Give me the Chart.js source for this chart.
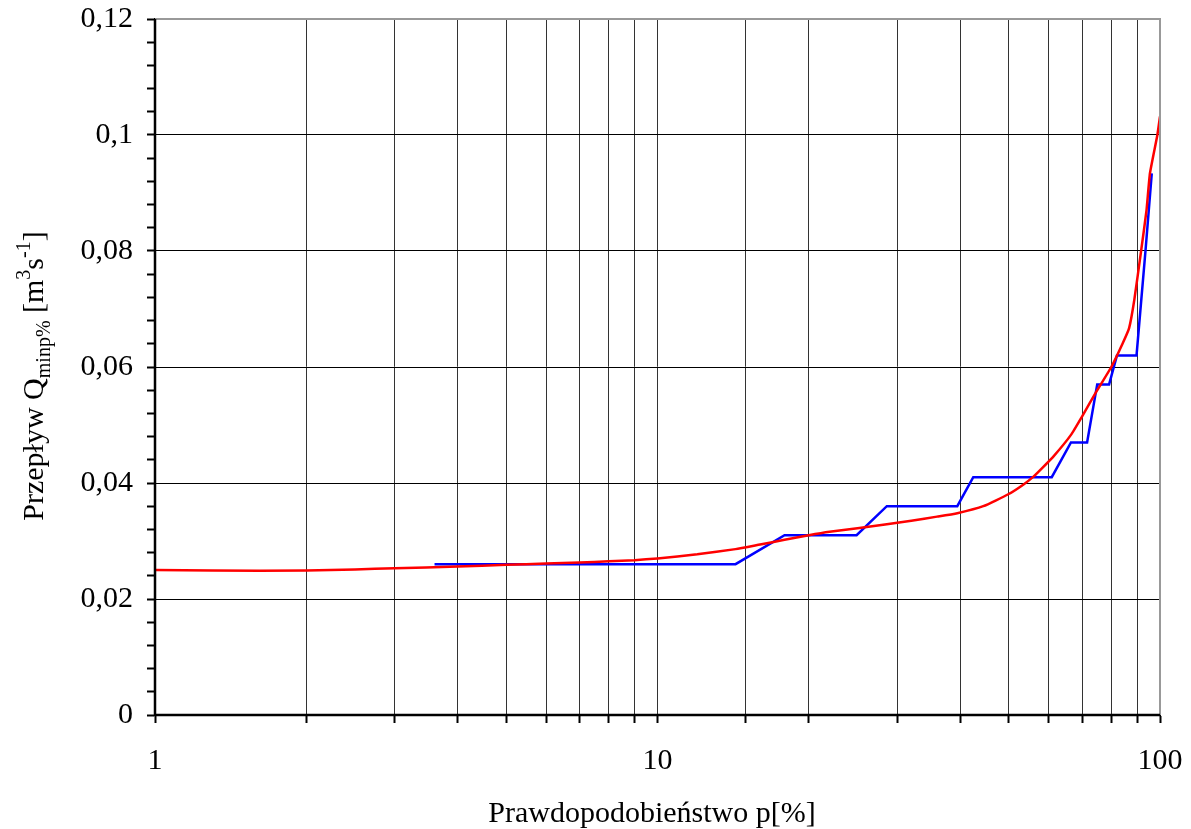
<!DOCTYPE html>
<html>
<head>
<meta charset="utf-8">
<script src="https://cdn.jsdelivr.net/npm/chart.js@4/dist/chart.umd.min.js"></script>
<style>
  html, body { margin: 0; padding: 0; background: #fff; }
  #wrap { width: 1191px; height: 829px; position: relative; }
</style>
</head>
<body>
<div id="wrap"><canvas id="c"></canvas></div>
<script>
// Empirical (blue) step series: probability p[%] and flow Q
const blueP = [3.6, 14.3, 17.9, 24.9, 28.6, 39.5, 42.5, 60.9, 66.5, 71.6, 75.0, 79.2, 82.1, 89.8, 93.6, 96.3];
const blueQ = [0.026, 0.026, 0.031, 0.031, 0.036, 0.036, 0.041, 0.041, 0.047, 0.047, 0.057, 0.057, 0.062, 0.062, 0.0802, 0.0934];

// Theoretical (red) curve
const redP = [1, 1.3, 2, 2.5, 3, 4, 5, 6, 7, 8, 9, 10, 12, 14.3, 16, 17.9, 20, 22, 25, 28.6, 32, 36, 39.5, 44.5, 50, 53.6, 56, 58, 61.4, 66.5, 70, 75, 80, 84.3, 86.8, 88.9, 91.7, 94, 95.5, 98.8, 100];
const redQ = [0.025, 0.0249, 0.0249, 0.0251, 0.0253, 0.0256, 0.0259, 0.0261, 0.0263, 0.0265, 0.0267, 0.027, 0.0277, 0.0286, 0.0294, 0.0302, 0.031, 0.0316, 0.0322, 0.0329, 0.0335, 0.0342, 0.0348, 0.036, 0.0381, 0.0398, 0.0411, 0.0424, 0.0446, 0.0483, 0.0515, 0.056, 0.060, 0.0641, 0.0667, 0.0716, 0.080, 0.087, 0.0934, 0.100, 0.1032];

// Axis ticks
const xMin = 1, xMax = 100;
const xLabelValues = [1, 10, 100];
const yMin = 0, yMax = 0.12, yMinorStep = 0.004, yMajorStep = 0.02;

const FONT = '"Liberation Serif", "Times New Roman", serif';

const toPts = (xs, ys) => xs.map((x, i) => ({x: x, y: ys[i]}));
const isMajorY = v => Math.abs(Math.round(v / yMajorStep) * yMajorStep - v) < 1e-9;
const fmtY = v => String(Number(v.toFixed(4))).replace('.', ',');
const zeroPad = s => { s.paddingTop = 0; s.paddingBottom = 0; s.paddingLeft = 0; s.paddingRight = 0; };

const framePlugin = {
  id: 'frame',
  afterDraw(chart) {
    const {ctx, chartArea: a} = chart;
    ctx.save();
    // gray top and right frame
    ctx.strokeStyle = '#999';
    ctx.lineWidth = 2;
    ctx.beginPath();
    ctx.moveTo(a.left, a.top);
    ctx.lineTo(a.right, a.top);
    ctx.lineTo(a.right, a.bottom);
    ctx.stroke();
    // redraw black axes
    ctx.strokeStyle = '#000';
    ctx.lineWidth = 2.5;
    ctx.beginPath();
    ctx.moveTo(a.left, a.top);
    ctx.lineTo(a.left, a.bottom);
    ctx.lineTo(a.right, a.bottom);
    ctx.stroke();

    ctx.fillStyle = '#000';
    // x title
    ctx.font = '30px ' + FONT;
    ctx.textAlign = 'center';
    ctx.textBaseline = 'alphabetic';
    ctx.fillText('Prawdopodobieństwo p[%]', 652, 822);

    // y title (rotated, with sub/superscripts)
    const segs = [
      {t: 'Przepływ Q', s: 30, dy: 0},
      {t: 'minp%', s: 20, dy: 7},
      {t: ' [m', s: 30, dy: 0},
      {t: '3', s: 20, dy: -13},
      {t: 's', s: 30, dy: 0},
      {t: '-1', s: 20, dy: -13},
      {t: ']', s: 30, dy: 0}
    ];
    let total = 0;
    segs.forEach(g => { ctx.font = g.s + 'px ' + FONT; g.w = ctx.measureText(g.t).width; total += g.w; });
    ctx.translate(43, 376);
    ctx.rotate(-Math.PI / 2);
    ctx.textAlign = 'left';
    let x = -total / 2;
    segs.forEach(g => {
      ctx.font = g.s + 'px ' + FONT;
      ctx.fillText(g.t, x, g.dy);
      x += g.w;
    });
    ctx.restore();
  }
};

new Chart(document.getElementById('c'), {
  type: 'scatter',
  data: {
    datasets: [
      {
        label: 'empiryczny',
        data: toPts(blueP, blueQ),
        showLine: true,
        borderColor: '#0000FF',
        backgroundColor: '#0000FF',
        borderWidth: 2.5,
        pointRadius: 0,
        tension: 0,
        order: 2
      },
      {
        label: 'teoretyczny',
        data: toPts(redP, redQ),
        showLine: true,
        borderColor: '#FF0000',
        backgroundColor: '#FF0000',
        borderWidth: 2.5,
        pointRadius: 0,
        tension: 0.15,
        order: 1
      }
    ]
  },
  options: {
    responsive: true,
    maintainAspectRatio: false,
    animation: false,
    layout: { padding: { left: 0, top: 19, right: 31, bottom: 0 } },
    plugins: { legend: { display: false }, tooltip: { enabled: false } },
    scales: {
      x: {
        type: 'logarithmic',
        min: xMin, max: xMax,
        afterFit: s => { s.height = 114; zeroPad(s); },
        border: { display: true, color: '#000', width: 2 },
        grid: { color: '#333', lineWidth: 1, drawTicks: true, tickLength: 8, tickColor: '#000', tickWidth: 2 },
        ticks: {
          autoSkip: false, maxRotation: 0, padding: 20, color: '#000',
          font: { family: FONT, size: 30 },
          callback: v => xLabelValues.includes(v) ? String(v) : ''
        }
      },
      y: {
        type: 'linear',
        min: yMin, max: yMax,
        afterFit: s => { s.width = 155; zeroPad(s); },
        border: { display: true, color: '#000', width: 2 },
        grid: {
          color: c => isMajorY(c.tick.value) ? '#000' : 'rgba(0,0,0,0)',
          lineWidth: 1, drawTicks: true, tickLength: 8, tickColor: '#000', tickWidth: 2
        },
        ticks: {
          stepSize: yMinorStep, autoSkip: false, padding: 14, color: '#000',
          font: { family: FONT, size: 30 },
          callback: v => isMajorY(v) ? fmtY(v) : ''
        }
      }
    }
  },
  plugins: [framePlugin]
});
</script>
</body>
</html>
